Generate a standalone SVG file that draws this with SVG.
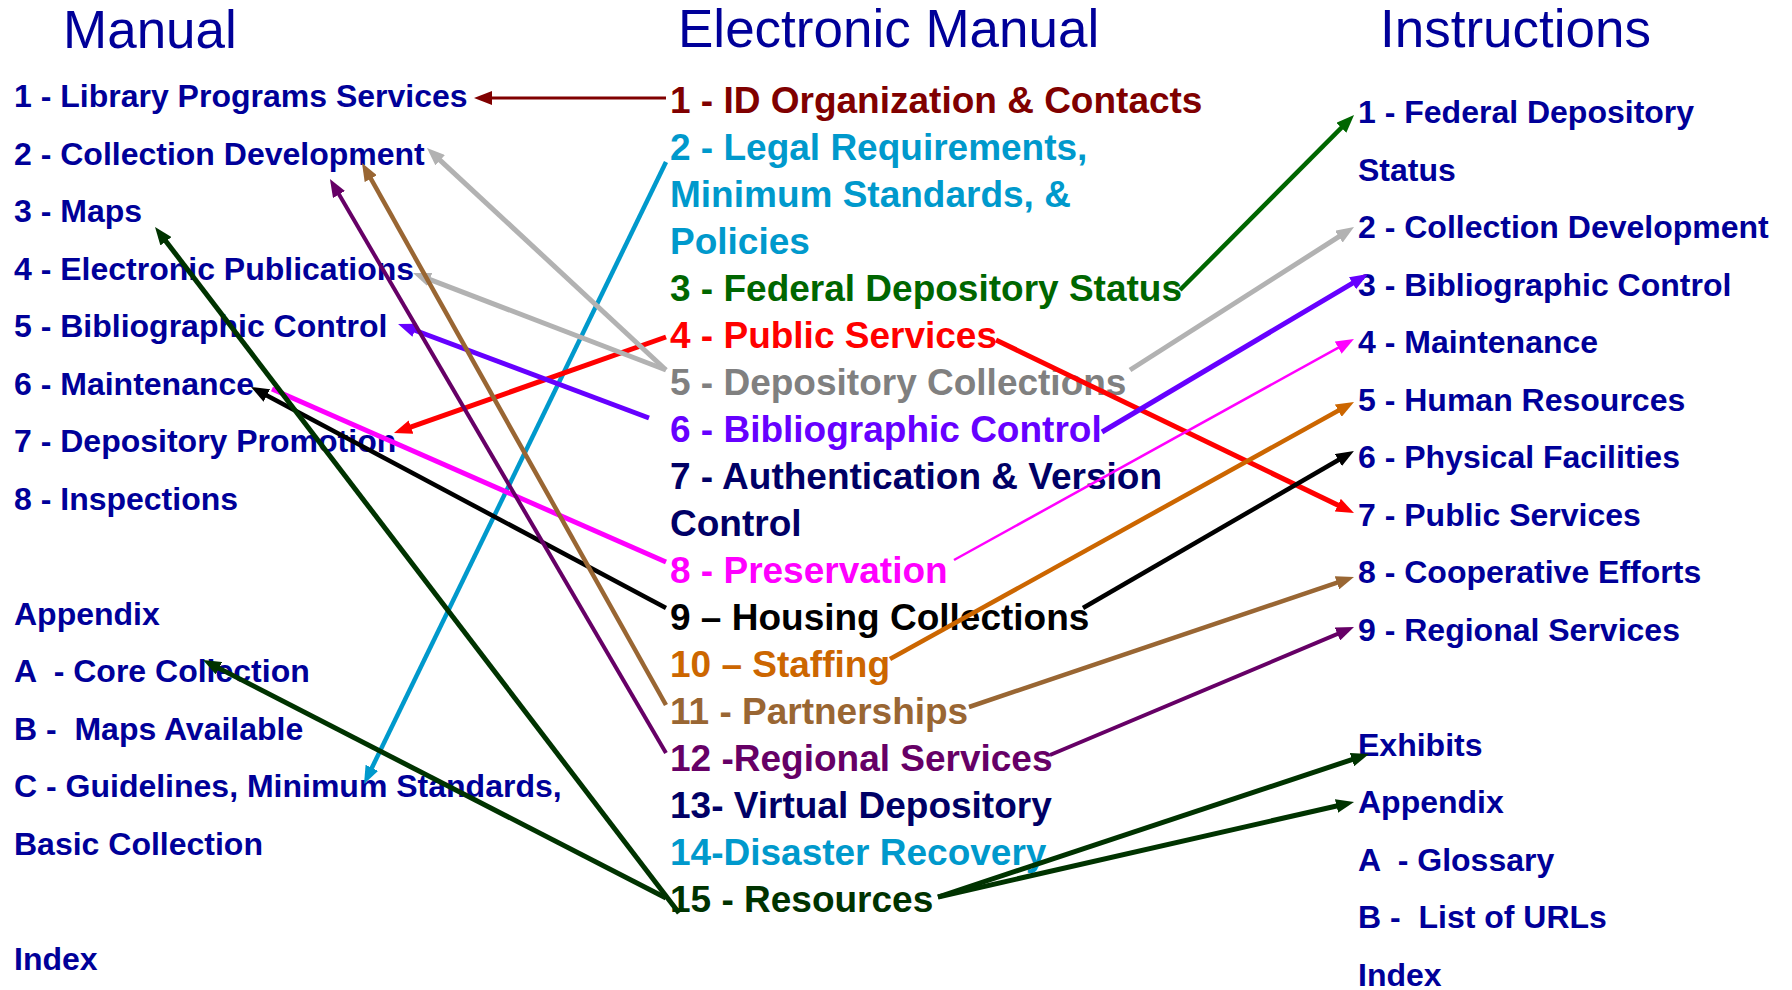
<svg xmlns="http://www.w3.org/2000/svg" width="1792" height="990" viewBox="0 0 1792 990">
<style>
text{font-family:"Liberation Sans",Arial,sans-serif;white-space:pre}
.title{font-size:53px;fill:#000099}
.side{font-size:32px;font-weight:bold;fill:#000099}
.mid{font-size:37px;font-weight:bold}
.c{fill:none;stroke-linecap:butt}
</style>
<defs>
<marker id="m-darkred" viewBox="0 0 18 14" refX="8" refY="7" markerWidth="18" markerHeight="14" markerUnits="userSpaceOnUse" orient="auto"><path d="M0,0 L18,7 L0,14 z" fill="#800000"/></marker>
<marker id="m-lblue" viewBox="0 0 18 14" refX="8" refY="7" markerWidth="18" markerHeight="14" markerUnits="userSpaceOnUse" orient="auto"><path d="M0,0 L18,7 L0,14 z" fill="#0099CC"/></marker>
<marker id="m-green" viewBox="0 0 18 14" refX="8" refY="7" markerWidth="18" markerHeight="14" markerUnits="userSpaceOnUse" orient="auto"><path d="M0,0 L18,7 L0,14 z" fill="#006600"/></marker>
<marker id="m-red" viewBox="0 0 18 14" refX="8" refY="7" markerWidth="18" markerHeight="14" markerUnits="userSpaceOnUse" orient="auto"><path d="M0,0 L18,7 L0,14 z" fill="#FF0000"/></marker>
<marker id="m-gray" viewBox="0 0 18 14" refX="8" refY="7" markerWidth="18" markerHeight="14" markerUnits="userSpaceOnUse" orient="auto"><path d="M0,0 L18,7 L0,14 z" fill="#B2B2B2"/></marker>
<marker id="m-violet" viewBox="0 0 18 14" refX="8" refY="7" markerWidth="18" markerHeight="14" markerUnits="userSpaceOnUse" orient="auto"><path d="M0,0 L18,7 L0,14 z" fill="#6600FF"/></marker>
<marker id="m-magenta" viewBox="0 0 18 14" refX="8" refY="7" markerWidth="18" markerHeight="14" markerUnits="userSpaceOnUse" orient="auto"><path d="M0,0 L18,7 L0,14 z" fill="#FF00FF"/></marker>
<marker id="m-black" viewBox="0 0 18 14" refX="8" refY="7" markerWidth="18" markerHeight="14" markerUnits="userSpaceOnUse" orient="auto"><path d="M0,0 L18,7 L0,14 z" fill="#000000"/></marker>
<marker id="m-orange" viewBox="0 0 18 14" refX="8" refY="7" markerWidth="18" markerHeight="14" markerUnits="userSpaceOnUse" orient="auto"><path d="M0,0 L18,7 L0,14 z" fill="#CC6600"/></marker>
<marker id="m-brown" viewBox="0 0 18 14" refX="8" refY="7" markerWidth="18" markerHeight="14" markerUnits="userSpaceOnUse" orient="auto"><path d="M0,0 L18,7 L0,14 z" fill="#996633"/></marker>
<marker id="m-purple" viewBox="0 0 18 14" refX="8" refY="7" markerWidth="18" markerHeight="14" markerUnits="userSpaceOnUse" orient="auto"><path d="M0,0 L18,7 L0,14 z" fill="#660066"/></marker>
<marker id="m-dkgreen" viewBox="0 0 18 14" refX="8" refY="7" markerWidth="18" markerHeight="14" markerUnits="userSpaceOnUse" orient="auto"><path d="M0,0 L18,7 L0,14 z" fill="#003300"/></marker>
</defs>
<rect width="1792" height="990" fill="#ffffff"/>

<g id="titles">
<g id="title-manual"><text class="title" x="63" y="48">Manual</text></g>
<g id="title-electronic"><text class="title" x="678" y="47">Electronic Manual</text></g>
<g id="title-instructions"><text class="title" x="1380" y="47">Instructions</text></g>
</g>

<g id="manual">
<g id="man-1"><text class="side" x="14" y="107">1 - Library Programs Services</text></g>
<g id="man-2"><text class="side" x="14" y="164.5">2 - Collection Development</text></g>
<g id="man-3"><text class="side" x="14" y="222">3 - Maps</text></g>
<g id="man-4"><text class="side" x="14" y="279.5">4 - Electronic Publications</text></g>
<g id="man-5"><text class="side" x="14" y="337">5 - Bibliographic Control</text></g>
<g id="man-6"><text class="side" x="14" y="394.5">6 - Maintenance</text></g>
<g id="man-7"><text class="side" x="14" y="452">7 - Depository Promotion</text></g>
<g id="man-8"><text class="side" x="14" y="509.5">8 - Inspections</text></g>
<g id="man-appendix"><text class="side" x="14" y="624.5">Appendix</text></g>
<g id="man-a"><text class="side" x="14" y="682">A  - Core Collection</text></g>
<g id="man-b"><text class="side" x="14" y="739.5">B -  Maps Available</text></g>
<g id="man-c"><text class="side" x="14" y="797">C - Guidelines, Minimum Standards,</text><text class="side" x="14" y="854.5">Basic Collection</text></g>
<g id="man-index"><text class="side" x="14" y="969.5">Index</text></g>
</g>

<g id="electronic">
<g id="em-1"><text class="mid" x="670" y="112.5" fill="#800000">1 - ID Organization &amp; Contacts</text></g>
<g id="em-2"><text class="mid" x="670" y="159.5" fill="#0099CC">2 - Legal Requirements,</text><text class="mid" x="670" y="206.5" fill="#0099CC">Minimum Standards, &amp;</text><text class="mid" x="670" y="253.5" fill="#0099CC">Policies</text></g>
<g id="em-3"><text class="mid" x="670" y="300.5" fill="#006600">3 - Federal Depository Status</text></g>
<g id="em-4"><text class="mid" x="670" y="347.5" fill="#FF0000">4 - Public Services</text></g>
<g id="em-5"><text class="mid" x="670" y="394.5" fill="#808080">5 - Depository Collections</text></g>
<g id="em-6"><text class="mid" x="670" y="441.5" fill="#6600FF">6 - Bibliographic Control</text></g>
<g id="em-7"><text class="mid" x="670" y="488.5" fill="#000066">7 - Authentication &amp; Version</text><text class="mid" x="670" y="535.5" fill="#000066">Control</text></g>
<g id="em-8"><text class="mid" x="670" y="582.5" fill="#FF00FF">8 - Preservation</text></g>
<g id="em-9"><text class="mid" x="670" y="629.5" fill="#000000">9 – Housing Collections</text></g>
<g id="em-10"><text class="mid" x="670" y="676.5" fill="#CC6600">10 – Staffing</text></g>
<g id="em-11"><text class="mid" x="670" y="723.5" fill="#996633">11 - Partnerships</text></g>
<g id="em-12"><text class="mid" x="670" y="770.5" fill="#660066">12 -Regional Services</text></g>
<g id="em-13"><text class="mid" x="670" y="817.5" fill="#000066">13- Virtual Depository</text></g>
<g id="em-14"><text class="mid" x="670" y="864.5" fill="#0099CC">14-Disaster Recovery</text></g>
<g id="em-15"><text class="mid" x="670" y="911.5" fill="#003300">15 - Resources</text></g>
</g>

<g id="instructions">
<g id="in-1"><text class="side" x="1358" y="123">1 - Federal Depository</text><text class="side" x="1358" y="180.5">Status</text></g>
<g id="in-2"><text class="side" x="1358" y="238">2 - Collection Development</text></g>
<g id="in-3"><text class="side" x="1358" y="295.5">3 - Bibliographic Control</text></g>
<g id="in-4"><text class="side" x="1358" y="353">4 - Maintenance</text></g>
<g id="in-5"><text class="side" x="1358" y="410.5">5 - Human Resources</text></g>
<g id="in-6"><text class="side" x="1358" y="468">6 - Physical Facilities</text></g>
<g id="in-7"><text class="side" x="1358" y="525.5">7 - Public Services</text></g>
<g id="in-8"><text class="side" x="1358" y="583">8 - Cooperative Efforts</text></g>
<g id="in-9"><text class="side" x="1358" y="640.5">9 - Regional Services</text></g>
<g id="in-exhibits"><text class="side" x="1358" y="755.5">Exhibits</text></g>
<g id="in-appendix"><text class="side" x="1358" y="813">Appendix</text></g>
<g id="in-a"><text class="side" x="1358" y="870.5">A  - Glossary</text></g>
<g id="in-b"><text class="side" x="1358" y="928">B -  List of URLs</text></g>
<g id="in-index"><text class="side" x="1358" y="985.5">Index</text></g>
</g>

<g id="connectors">
<line class="c" x1="666" y1="98" x2="484" y2="98" stroke="#800000" stroke-width="3" marker-end="url(#m-darkred)"/>
<line class="c" x1="666" y1="162" x2="368.4" y2="775" stroke="#0099CC" stroke-width="4.5" marker-end="url(#m-lblue)"/>
<line class="c" x1="1180" y1="290" x2="1347" y2="122.1" stroke="#006600" stroke-width="4.5" marker-end="url(#m-green)"/>
<line class="c" x1="666" y1="337" x2="403.4" y2="429.7" stroke="#FF0000" stroke-width="5" marker-end="url(#m-red)"/>
<line class="c" x1="996" y1="340" x2="1345" y2="508.6" stroke="#FF0000" stroke-width="5" marker-end="url(#m-red)"/>
<line class="c" x1="666" y1="370" x2="434.3" y2="154.8" stroke="#B2B2B2" stroke-width="5" marker-end="url(#m-gray)"/>
<line class="c" x1="666" y1="370" x2="422.3" y2="276.6" stroke="#B2B2B2" stroke-width="5" marker-end="url(#m-gray)"/>
<line class="c" x1="1130" y1="370" x2="1345.6" y2="232.4" stroke="#B2B2B2" stroke-width="5" marker-end="url(#m-gray)"/>
<line class="c" x1="649" y1="418" x2="407.4" y2="327.5" stroke="#6600FF" stroke-width="5" marker-end="url(#m-violet)"/>
<line class="c" x1="1102" y1="432" x2="1359.4" y2="279.1" stroke="#6600FF" stroke-width="5" marker-end="url(#m-violet)"/>
<line class="c" x1="666" y1="562" x2="272" y2="389" stroke="#FF00FF" stroke-width="5"/>
<line class="c" x1="954" y1="560" x2="1345.2" y2="343.8" stroke="#FF00FF" stroke-width="2.5" marker-end="url(#m-magenta)"/>
<line class="c" x1="666" y1="608" x2="259.8" y2="391.7" stroke="#000000" stroke-width="4.5" marker-end="url(#m-black)"/>
<line class="c" x1="1083" y1="608" x2="1345.3" y2="456" stroke="#000000" stroke-width="4.5" marker-end="url(#m-black)"/>
<line class="c" x1="890" y1="659" x2="1345.3" y2="406.8" stroke="#CC6600" stroke-width="4.5" marker-end="url(#m-orange)"/>
<line class="c" x1="666" y1="705" x2="366.9" y2="171.7" stroke="#996633" stroke-width="4.5" marker-end="url(#m-brown)"/>
<line class="c" x1="969" y1="707" x2="1344.5" y2="580.2" stroke="#996633" stroke-width="4.5" marker-end="url(#m-brown)"/>
<line class="c" x1="666" y1="753" x2="335" y2="187.6" stroke="#660066" stroke-width="4" marker-end="url(#m-purple)"/>
<line class="c" x1="1050" y1="755" x2="1344.8" y2="630.9" stroke="#660066" stroke-width="4" marker-end="url(#m-purple)"/>
<line class="c" x1="679" y1="913" x2="161.1" y2="234.9" stroke="#003300" stroke-width="5" marker-end="url(#m-dkgreen)"/>
<line class="c" x1="666" y1="898" x2="211.9" y2="664.6" stroke="#003300" stroke-width="5" marker-end="url(#m-dkgreen)"/>
<line class="c" x1="938" y1="897" x2="1359.5" y2="757.1" stroke="#003300" stroke-width="5" marker-end="url(#m-dkgreen)"/>
<line class="c" x1="938" y1="897" x2="1344.3" y2="804.2" stroke="#003300" stroke-width="5" marker-end="url(#m-dkgreen)"/>
</g>
</svg>
